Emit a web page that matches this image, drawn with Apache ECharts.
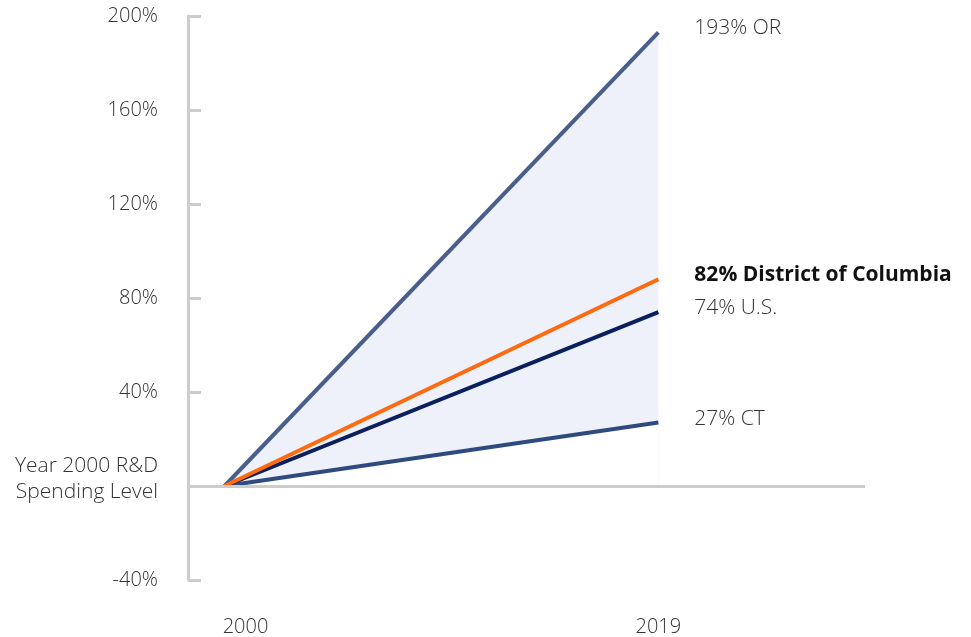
<!DOCTYPE html>
<html>
<head>
<meta charset="utf-8">
<script src="https://cdn.jsdelivr.net/npm/echarts@6/dist/echarts.min.js"></script>
<style>
  html, body { margin: 0; padding: 0; background: #fff; }
  #chart { width: 971px; height: 637px; }
</style>
</head>
<body>
<div id="chart"></div>
<script>
// years on the x axis
var years = [2000, 2019];
var orValues = [0, 193];
var ctValues = [0, 27];
var usValues = [0, 74];
var dcValues = [0, 88];
// end label texts
var endLabels = ["193% OR", "27% CT", "74% U.S.", "82% District of Columbia"];
var zeroLabel = "Year 2000 R&D\nSpending Level";

function pairs(vals) {
  return years.map(function (y, i) { return [y, vals[i]]; });
}

var FONT = "Open Sans";
var myChart = echarts.init(document.getElementById("chart"));

function endLabel(text, bold) {
  return {
    show: true,
    formatter: text,
    distance: 36,
    offset: [0, -4],
    color: bold ? "#111" : "#333",
    fontFamily: FONT,
    fontSize: 21,
    fontWeight: bold ? "bold" : 300,
  };
}

function line(name, vals, color, label, bold) {
  return {
    name: name,
    type: "line",
    symbol: "none",
    silent: true,
    lineStyle: { color: color, width: 4 },
    endLabel: endLabel(label, bold),
    data: pairs(vals),
  };
}

var dcSeries = line("District of Columbia", dcValues, "#ff6a10", endLabels[3], true);
// zero reference line
dcSeries.markLine = {
  silent: true,
  symbol: "none",
  label: { show: false },
  lineStyle: { color: "#cccccc", width: 3, type: "solid" },
  data: [{ yAxis: 0 }],
};

var option = {
  animation: false,
  grid: { left: 188, right: 106, top: 16, bottom: 57 },
  xAxis: {
    type: "value",
    min: 1998.4,
    max: 2028.05,
    axisLine: { show: false },
    axisTick: { show: false },
    splitLine: { show: false },
    axisLabel: {
      customValues: years,
      margin: 37,
      fontFamily: FONT,
      fontSize: 20,
      fontWeight: 300,
      color: "#333",
      formatter: function (v) {
        return v === years[0] ? "{first|" + v + "}" : String(v);
      },
      rich: {
        first: { padding: [0, 0, 0, 42], fontFamily: FONT, fontSize: 20, fontWeight: 300, color: "#333" },
      },
    },
  },
  yAxis: {
    type: "value",
    min: -40,
    max: 200,
    interval: 40,
    axisLine: { show: true, lineStyle: { color: "#cccccc", width: 3 } },
    axisTick: { show: true, inside: true, length: 13, lineStyle: { color: "#cccccc", width: 3 } },
    splitLine: { show: false },
    axisLabel: {
      margin: 30,
      fontFamily: FONT,
      fontSize: 20,
      fontWeight: 300,
      color: "#333",
      formatter: function (v) {
        return v === 0 ? "{z|" + zeroLabel + "}" : v + "%";
      },
      rich: {
        z: { lineHeight: 26, align: "right", padding: [0, 0, 14, 0], fontFamily: FONT, fontSize: 21, fontWeight: 300, color: "#333" },
      },
    },
  },
  series: [
    // shaded range: fill under OR, then blank out the part under CT
    {
      name: "range top",
      type: "line",
      symbol: "none",
      silent: true,
      lineStyle: { opacity: 0 },
      areaStyle: { color: "#eef1fa", opacity: 1 },
      data: pairs(orValues),
    },
    {
      name: "range bottom",
      type: "line",
      symbol: "none",
      silent: true,
      lineStyle: { opacity: 0 },
      areaStyle: { color: "#ffffff", opacity: 1 },
      data: pairs(ctValues),
    },
    line("OR", orValues, "#4a5e8c", endLabels[0], false),
    line("CT", ctValues, "#2f4a7e", endLabels[1], false),
    line("U.S.", usValues, "#0b1f5c", endLabels[2], false),
    dcSeries,
  ],
};
myChart.setOption(option);
</script>
</body>
</html>
